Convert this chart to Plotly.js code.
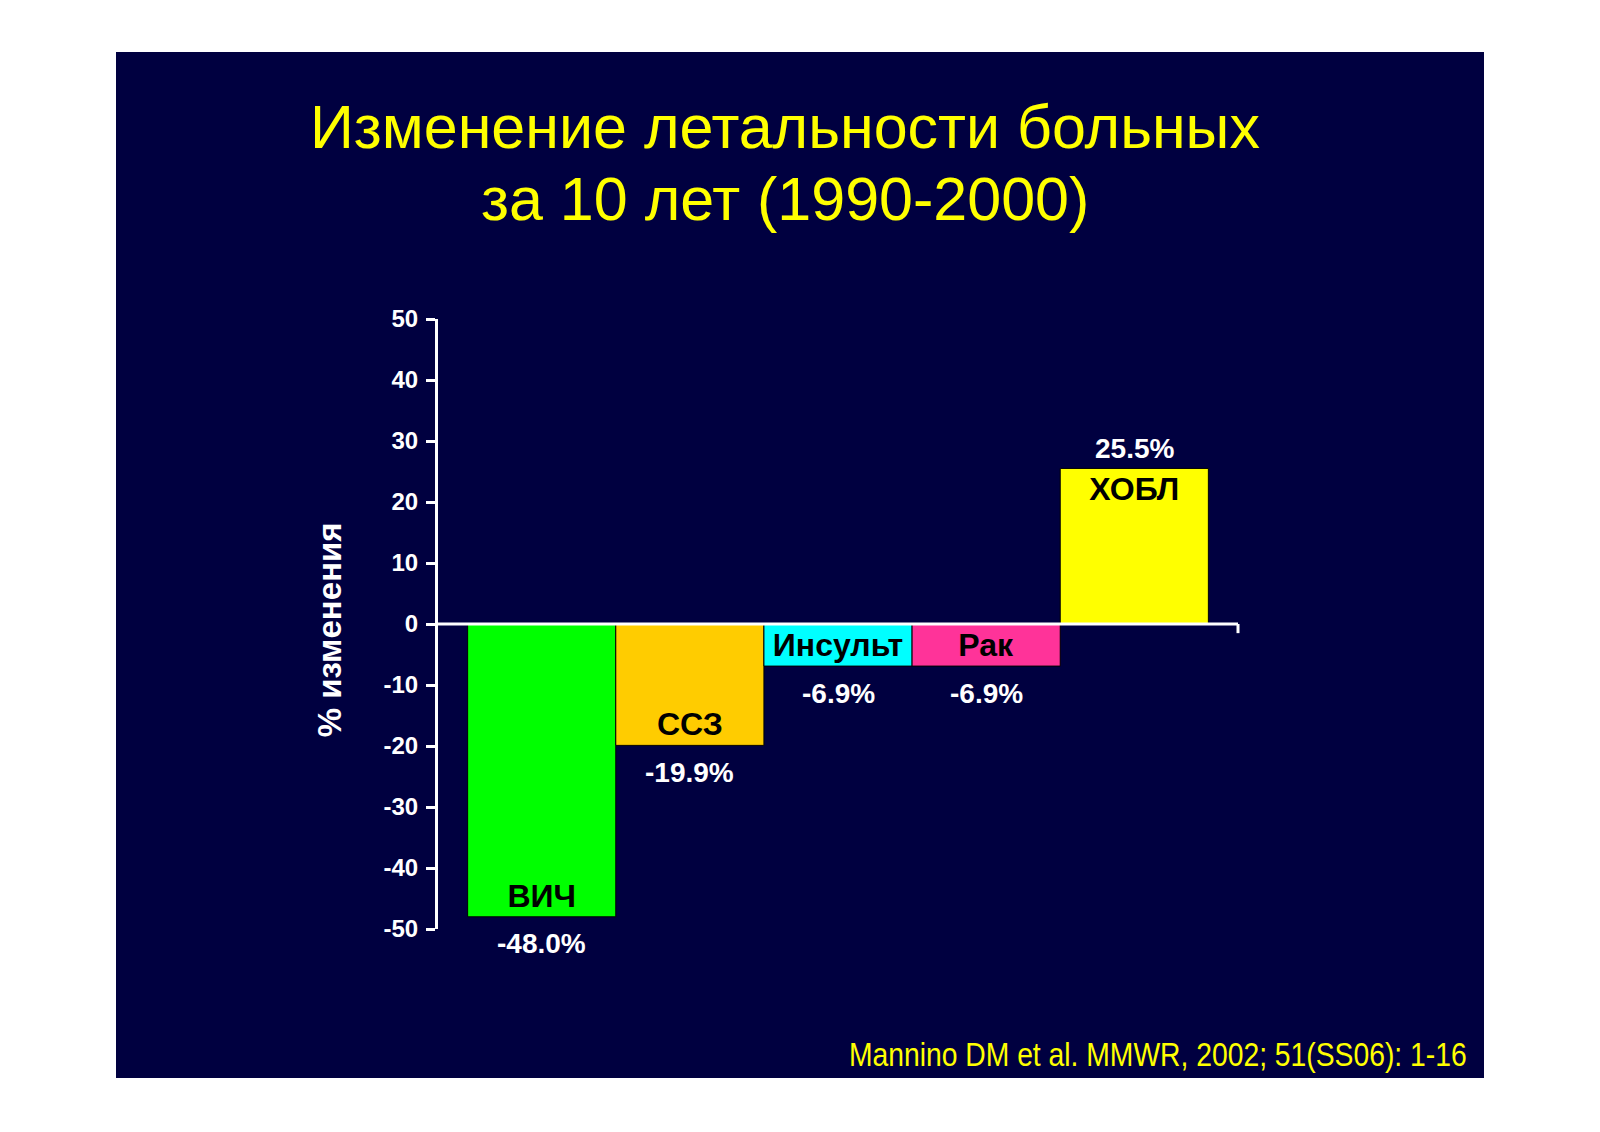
<!DOCTYPE html>
<html>
<head>
<meta charset="utf-8">
<script src="https://cdn.plot.ly/plotly-3.0.1.min.js"></script>
<style>html,body{margin:0;padding:0;background:#fff;}#chart{width:1600px;height:1132px;}</style>
</head>
<body>
<div id="chart"></div>
<script>
// ---- data ----
const categories = ["ВИЧ", "ССЗ", "Инсульт", "Рак", "ХОБЛ"];
const changePct = [-48.0, -19.9, -6.9, -6.9, 25.5];
const barColors = ["#00FF00", "#FFCC00", "#00FFFF", "#FF3399", "#FFFF00"];
const yTicks = [-50, -40, -30, -20, -10, 0, 10, 20, 30, 40, 50];
const titleLines = ["Изменение летальности больных", "за 10 лет (1990-2000)"];
const yTitle = "% изменения";
const sourceNote = "Mannino DM et al. MMWR, 2002; 51(SS06): 1-16";

const NAVY = "#000040";
const FONT = "Liberation Sans, Arial, sans-serif";
const idx = categories.map((_, i) => i);

const trace = {
  type: "bar",
  x: idx,
  y: changePct,
  width: 1,
  marker: { color: barColors, line: { color: "#000000", width: 1 } },
  text: categories,
  textposition: "inside",
  insidetextanchor: "end",
  constraintext: "none",
  textangle: 0,
  textfont: { family: FONT, size: 32, color: "#000000", weight: "bold" },
  hoverinfo: "skip",
  cliponaxis: false
};

const valueAnnotations = changePct.map((v, i) => ({
  x: i, y: v, xref: "x", yref: "y",
  text: v.toFixed(1) + "%",
  showarrow: false,
  yanchor: "middle",
  yshift: v < 0 ? -27 : 20,
  font: { family: FONT, size: 28, color: "#FFFFFF", weight: "bold" }
}));

const layout = {
  width: 1600, height: 1132,
  margin: { l: 438, r: 362, t: 319, b: 203 },
  paper_bgcolor: "#FFFFFF",
  plot_bgcolor: "rgba(0,0,0,0)",
  showlegend: false,
  bargap: 0,
  xaxis: {
    range: [-0.7, idx.length - 1 + 0.7],
    showticklabels: false, showgrid: false, zeroline: false, showline: false, ticks: "",
    fixedrange: true
  },
  yaxis: {
    range: [-50, 50],
    tickvals: yTicks,
    ticktext: yTicks.map(String),
    showgrid: false, zeroline: false,
    showline: true, linecolor: "#FFFFFF", linewidth: 3,
    ticks: "outside", ticklen: 9, tickwidth: 3, tickcolor: "#FFFFFF",
    tickfont: { family: FONT, size: 24, color: "#FFFFFF", weight: "bold" },
    ticklabelstandoff: 3,
    fixedrange: true
  },
  shapes: [
    { type: "rect", xref: "paper", yref: "paper", x0: -0.4025, x1: 1.3075, y0: -0.2443, y1: 1.4377,
      fillcolor: NAVY, line: { width: 0 }, layer: "below" },
    { type: "line", xref: "paper", yref: "y", x0: 0, x1: 1, y0: 0, y1: 0,
      line: { color: "#FFFFFF", width: 3 }, layer: "above" },
    { type: "line", xref: "paper", yref: "y", x0: 1, x1: 1, y0: 0, y1: -1.5,
      line: { color: "#FFFFFF", width: 3 }, layer: "above" }
  ],
  annotations: [
    ...valueAnnotations,
    { xref: "paper", yref: "paper", x: 0.4338, y: 1.3148, text: titleLines[0], showarrow: false,
      xanchor: "center", yanchor: "middle", font: { family: FONT, size: 61, color: "#FFFF00" } },
    { xref: "paper", yref: "paper", x: 0.4338, y: 1.1967, text: titleLines[1], showarrow: false,
      xanchor: "center", yanchor: "middle", font: { family: FONT, size: 61, color: "#FFFF00" } },
    { xref: "paper", yref: "paper", x: -0.136, y: 0.49, text: yTitle, showarrow: false, textangle: -90,
      xanchor: "center", yanchor: "middle", font: { family: FONT, size: 33, color: "#FFFFFF", weight: "bold" } },
    { xref: "paper", yref: "paper", x: 1.289, y: -0.205, text: sourceNote, showarrow: false,
      xanchor: "right", yanchor: "middle",
      font: { family: FONT, size: 33, color: "#FFFF00" } }
  ]
};

Plotly.newPlot("chart", [trace], layout, { displayModeBar: false, staticPlot: true }).then(gd => {
  // condense the source note horizontally (narrow typeface in the original)
  const texts = gd.querySelectorAll("text.annotation-text");
  texts.forEach(t => {
    if (t.textContent === sourceNote) {
      const bb = t.getBBox();
      const right = bb.x + bb.width;
      const s = 618 / bb.width;
      t.setAttribute("transform", `translate(${right},0) scale(${s},1) translate(${-right},0)`);
    }
  });
});
</script>
</body>
</html>
